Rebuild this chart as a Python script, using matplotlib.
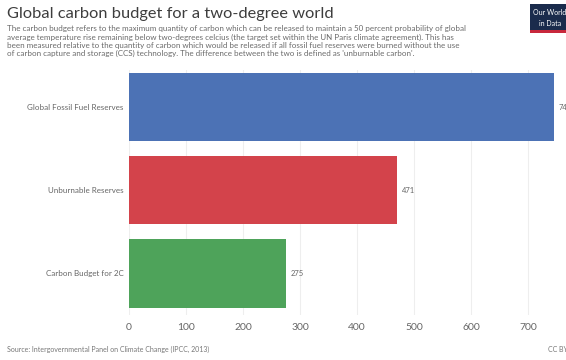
import matplotlib.pyplot as plt
from matplotlib.patches import Rectangle

plt.rcParams['font.family'] = ['Lato', 'DejaVu Sans']

categories = ['Global Fossil Fuel Reserves', 'Unburnable Reserves', 'Carbon Budget for 2C']
values = [746, 471, 275]
colors = ['#4c72b5', '#d3434b', '#4ea35a']
xticks = [0, 100, 200, 300, 400, 500, 600, 700]

title = 'Global carbon budget for a two-degree world'
subtitle = ("The carbon budget refers to the maximum quantity of carbon which can be released to maintain a 50 percent probability of global\n"
            "average temperature rise remaining below two-degrees celcius (the target set within the UN Paris climate agreement). This has\n"
            "been measured relative to the quantity of carbon which would be released if all fossil fuel reserves were burned without the use\n"
            "of carbon capture and storage (CCS) technology. The difference between the two is defined as 'unburnable carbon'.")
source = 'Source: Intergovernmental Panel on Climate Change (IPCC, 2013)'

fig = plt.figure(figsize=(5.66, 3.6), dpi=100)
ax = fig.add_axes([0.228, 0.125, 0.751, 0.681])

ypos = list(range(len(categories)))
ax.barh(ypos, values, height=0.82, color=colors)
for y, v in zip(ypos, values):
    ax.text(v + 8, y, str(v), va='center', ha='left', fontsize=5.5, color='#666666')

ax.set_xlim(0, 746)
ax.set_ylim(2.5, -0.45)
ax.set_xticks(xticks)
ax.set_yticks(ypos)
ax.set_yticklabels(categories)
ax.tick_params(axis='x', length=0, labelsize=7.5, labelcolor='#666666', pad=6)
ax.tick_params(axis='y', length=0, labelsize=5.8, labelcolor='#666666', pad=4)
ax.grid(axis='x', color='#eeeeee', linewidth=0.8)
ax.set_axisbelow(True)
for s in ax.spines.values():
    s.set_visible(False)

fig.text(0.012, 0.962, title, fontsize=11.8, color='#3d3d3d', va='center', ha='left')
fig.text(0.012, 0.93, subtitle, fontsize=5.8, color='#6a6a6a', va='top', ha='left',
         linespacing=1.2)
fig.text(0.012, 0.03, source, fontsize=5, color='#777777', va='center', ha='left')
fig.text(0.968, 0.03, 'CC BY', fontsize=5, color='#777777', va='center', ha='left')

# logo box in the top right corner
fig.patches.append(Rectangle((0.936, 0.915), 0.07, 0.075, transform=fig.transFigure,
                             facecolor='#1a2b4c', edgecolor='none'))
fig.patches.append(Rectangle((0.936, 0.909), 0.07, 0.008, transform=fig.transFigure,
                             facecolor='#c8283c', edgecolor='none'))
fig.text(0.942, 0.965, 'Our World', fontsize=5, color='white', va='center', ha='left')
fig.text(0.952, 0.935, 'in Data', fontsize=5, color='white', va='center', ha='left')

fig.savefig('out.png', dpi=100)
